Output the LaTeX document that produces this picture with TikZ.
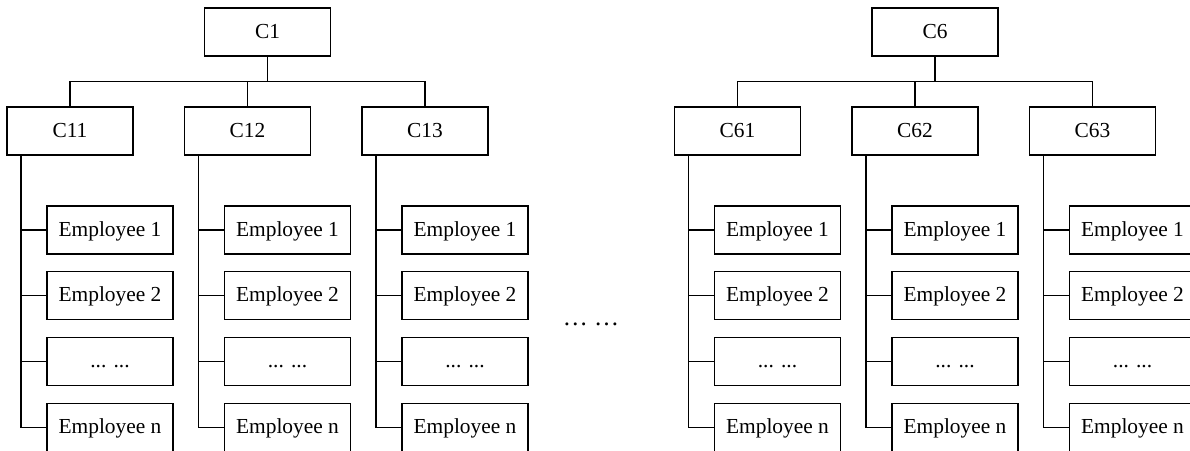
\documentclass[tikz,border=0pt]{standalone}
\usepackage{fontspec}
\setmainfont{Liberation Serif}
\newcommand\empdots{... ...}
\begin{document}
\begin{tikzpicture}[x=1pt,y=-1pt,
  box/.style={draw, line width=1.4pt, minimum width=126pt, minimum height=48pt,
    inner sep=0pt, text height=16pt, text depth=4pt,
    font=\fontsize{21.4}{25}\selectfont},
  wire/.style={line width=1.4pt}]
\clip (0,0) rectangle (1190,450);
% two department trees, the second one shifted to the right
\foreach \g/\dx in {1/0, 6/667.5} {
  \node[box] (c\g) at (267.5+\dx, 32) {C\g};
  \foreach \k/\cx in {1/70, 2/247.5, 3/425} {
    \node[box] (c\g\k) at (\cx+\dx, 131) {C\g\k};
    \draw[wire] (c\g.south) -- ++(0,25) -| (c\g\k.north);
    \foreach \e/\ey/\t in {1/230/Employee 1, 2/295.7/Employee 2, 3/361.4/\empdots, 4/427.6/Employee n} {
      \node[box] (e\g\k\e) at (\cx+\dx+40, \ey) {\t};
      \draw[wire] ([xshift=14.5pt]c\g\k.south west) |- (e\g\k\e.west);
    }
  }
}
% ellipsis between the two trees
\node[anchor=base, inner sep=0pt, font=\fontsize{25}{29}\selectfont] (gap) at (591, 325.5) {… …};
\end{tikzpicture}
\end{document}
